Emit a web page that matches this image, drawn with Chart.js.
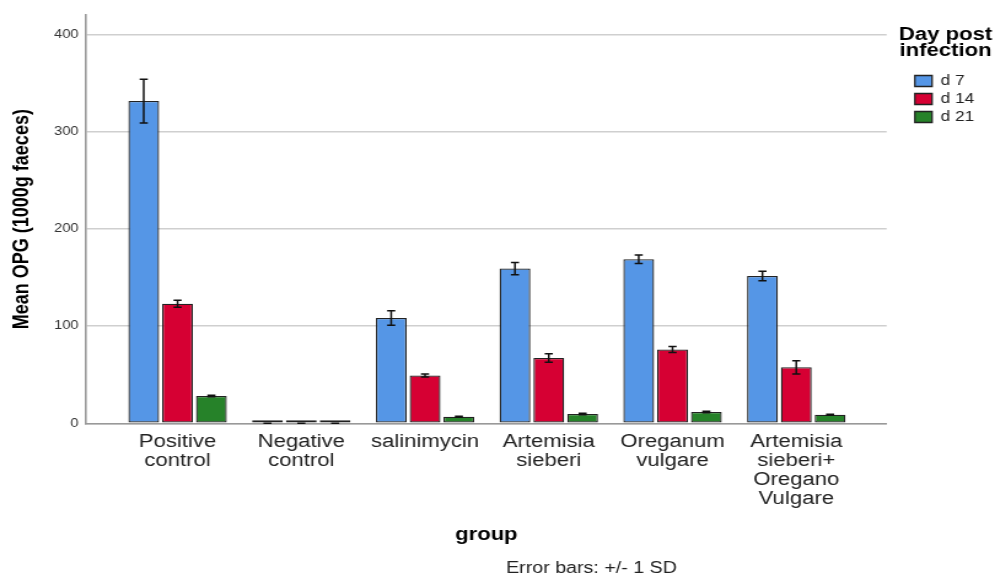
<!DOCTYPE html>
<html>
<head>
<meta charset="utf-8">
<script src="https://cdn.jsdelivr.net/npm/chart.js@4.4.1/dist/chart.umd.min.js"></script>
<style>
  html, body { margin: 0; padding: 0; background: #fff; }
</style>
</head>
<body>
<!-- chart is drawn on an 810px canvas and shown 995px wide (wide, SPSS-like lettering) -->
<canvas id="c" width="810" height="578" style="display:block;width:995px;height:578px"></canvas>
<script>
// Treatment groups (multi-line tick labels)
const groups = [
  ['Positive', 'control'],
  ['Negative', 'control'],
  'salinimycin',
  ['Artemisia', 'sieberi'],
  ['Oreganum', 'vulgare'],
  ['Artemisia', 'sieberi+', 'Oregano', 'Vulgare']
];
const seriesNames = ['d 7', 'd 14', 'd 21'];
const legendTitle = ['Day post', 'infection'];

// Mean OPG per group and its standard deviation
const d7Mean  = [331.5, 0, 108.3, 159.2, 168.8, 151.5];
const d7SD    = [22.5, 0, 7.5, 6.3, 4.3, 4.8];
const d14Mean = [122.9, 0, 49.1, 67.2, 75.9, 57.6];
const d14SD   = [3.6, 0, 1.5, 4.4, 3.1, 6.8];
const d21Mean = [28.1, 0, 6.8, 9.6, 11.6, 8.8];
const d21SD   = [0.8, 0, 0.5, 0.7, 0.7, 0.6];

const yTicks = [0, 100, 200, 300, 400];

const FONT = '"Liberation Sans", Arial, Helvetica, sans-serif';
const colors = ['#5596e6', '#d60033', '#268229'];
const means = [d7Mean, d14Mean, d21Mean];
const sds = [d7SD, d14SD, d21SD];

const datasets = seriesNames.map((name, s) => ({
  label: name,
  data: means[s].map((v, i) => ({ x: i, y: v })),
  sd: sds[s],
  backgroundColor: colors[s],
  borderColor: '#222',
  borderWidth: 1.3,
  borderSkipped: false,
  minBarLength: 3,
  categoryPercentage: 0.82,
  barPercentage: 0.91
}));

// +/- 1 SD whiskers on every bar
const errorBars = {
  id: 'errorBars',
  afterDatasetsDraw(chart) {
    const { ctx } = chart;
    const y = chart.scales.y;
    ctx.save();
    ctx.strokeStyle = '#111';
    ctx.lineWidth = 1.5;
    chart.data.datasets.forEach((ds, di) => {
      const meta = chart.getDatasetMeta(di);
      meta.data.forEach((bar, i) => {
        const m = ds.data[i].y, e = ds.sd[i];
        const top = y.getPixelForValue(m + e);
        const bot = y.getPixelForValue(m - e);
        const x = bar.x, hw = 3.3;
        ctx.beginPath();
        ctx.moveTo(x, top); ctx.lineTo(x, bot);
        ctx.moveTo(x - hw, top); ctx.lineTo(x + hw, top);
        ctx.moveTo(x - hw, bot); ctx.lineTo(x + hw, bot);
        ctx.stroke();
      });
    });
    ctx.restore();
  }
};

// legend heading (wider than the legend column) and the footnote
const extraText = {
  id: 'extraText',
  afterDraw(chart) {
    const ctx = chart.ctx;
    const lg = chart.legend;
    ctx.save();
    ctx.textAlign = 'center';
    ctx.textBaseline = 'alphabetic';
    ctx.fillStyle = '#000';
    ctx.font = 'bold 18px ' + FONT;
    const cx = lg.left + 29;
    legendTitle.forEach((line, k) => ctx.fillText(line, cx, lg.top + 25 + k * 16));
    ctx.font = '16px ' + FONT;
    ctx.fillStyle = '#222';
    ctx.fillText('Error bars: +/- 1 SD', 481.5, 573);
    ctx.restore();
  }
};

new Chart(document.getElementById('c'), {
  type: 'bar',
  data: { datasets },
  plugins: [errorBars, extraText],
  options: {
    responsive: false,
    animation: false,
    devicePixelRatio: 1,
    layout: { padding: { left: 7, right: 7, top: 15, bottom: 0 } },
    plugins: {
      tooltip: { enabled: false },
      legend: {
        position: 'right',
        align: 'start',
        title: {
          display: true,
          text: '',
          font: { family: FONT, size: 18, weight: 'bold', lineHeight: 0.89 },
          padding: { top: 10, bottom: 29 }
        },
        labels: {
          boxWidth: 14,
          boxHeight: 11,
          padding: 4,
          color: '#222',
          font: { family: FONT, size: 14 }
        }
      }
    },
    scales: {
      x: {
        type: 'linear',
        offset: false,
        min: -0.74,
        max: 5.73,
        afterBuildTicks: s => { s.ticks = groups.map((g, i) => ({ value: i })); },
        afterFit: s => { s.height = 154.7; },
        grid: { color: 'rgba(0,0,0,0)', drawTicks: false, offset: false },
        border: { display: true, color: '#999', width: 1.6 },
        ticks: {
          autoSkip: false,
          maxRotation: 0,
          padding: 9,
          color: '#222',
          font: { family: FONT, size: 18, lineHeight: 1.06 },
          callback: v => groups[v]
        },
        title: {
          display: true,
          text: 'group',
          color: '#000',
          font: { family: FONT, size: 18, weight: 'bold' },
          padding: { top: 0, bottom: 32 }
        }
      },
      y: {
        min: 0,
        max: 420,
        afterBuildTicks: s => { s.ticks = yTicks.map(v => ({ value: v })); },
        afterFit: s => { s.width = 63; },
        grid: { color: '#cfcfcf', lineWidth: 1.5, drawTicks: false },
        border: { display: true, color: '#999', width: 1.6 },
        ticks: { padding: 6, color: '#333', font: { family: FONT, size: 12 } },
        title: {
          display: true,
          text: 'Mean OPG (1000g faeces)',
          color: '#000',
          font: { family: FONT, size: 18, weight: 'bold' },
          padding: { top: 0, bottom: 0 }
        }
      },
      // empty strip between plot and legend
      gap: {
        type: 'linear',
        position: 'right',
        display: true,
        afterFit: s => { s.width = 19; },
        grid: { display: false, drawTicks: false },
        border: { display: false },
        ticks: { display: false }
      }
    }
  }
});
</script>
</body>
</html>
